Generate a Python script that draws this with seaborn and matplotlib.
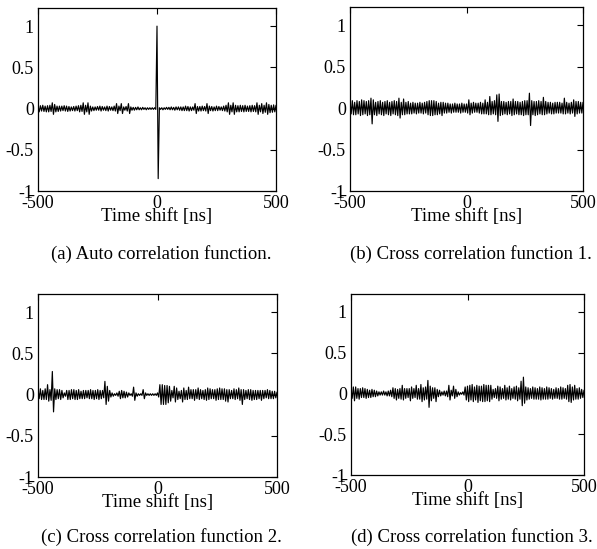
import numpy as np
import pandas as pd
import matplotlib
matplotlib.use("Agg")
import matplotlib.pyplot as plt
import seaborn as sns

# Correlation values sampled every 5 ns from -500 ns to 500 ns (one row = 100 ns)
lag_ns = np.arange(-500, 501, 5)

auto_corr = [
    0.03, -0.04, 0.035, -0.03, 0.04, -0.035, 0.03, -0.04, 0.035, -0.04, 0.04, -0.035, 0.07, -0.07, 0.05, -0.04, 0.03, -0.035, 0.03, -0.03,
    0.03, -0.025, 0.035, -0.03, 0.03, -0.035, 0.025, -0.03, 0.02, -0.025, 0.025, -0.03, 0.03, -0.025, 0.035, -0.04, 0.04, -0.035, 0.07, -0.07,
    0.04, -0.04, 0.07, -0.07, 0.03, -0.03, 0.02, -0.025, 0.02, -0.02, 0.025, -0.02, 0.03, -0.03, 0.025, -0.02, 0.02, -0.025, 0.03, -0.03,
    0.025, -0.02, 0.02, -0.025, 0.03, -0.03, 0.06, -0.06, 0.03, -0.025, 0.06, -0.06, 0.02, -0.02, 0.025, -0.03, 0.06, -0.06, 0.02, -0.02,
    0.015, -0.02, 0.015, -0.015, 0.02, -0.015, 0.01, -0.015, 0.015, -0.01, 0.01, -0.015, 0.01, -0.01, 0.01, -0.01, 0.01, -0.01, 0.01, -0.01,
    1.0, -0.85, 0.01, -0.01, 0.01, -0.015, 0.01, -0.01, 0.015, -0.01, 0.015, -0.015, 0.02, -0.015, 0.015, -0.02, 0.02, -0.015, 0.02, -0.02,
    0.02, -0.025, 0.02, -0.025, 0.03, -0.025, 0.025, -0.03, 0.02, -0.025, 0.02, -0.02, 0.06, -0.06, 0.025, -0.03, 0.025, -0.03, 0.03, -0.025,
    0.025, -0.03, 0.06, -0.06, 0.03, -0.025, 0.025, -0.03, 0.02, -0.025, 0.03, -0.025, 0.025, -0.02, 0.02, -0.025, 0.03, -0.03, 0.04, -0.04,
    0.07, -0.07, 0.04, -0.04, 0.07, -0.07, 0.04, -0.04, 0.035, -0.04, 0.04, -0.035, 0.035, -0.04, 0.04, -0.035, 0.03, -0.035, 0.035, -0.04,
    0.04, -0.035, 0.035, -0.04, 0.07, -0.07, 0.04, -0.04, 0.06, -0.06, 0.04, -0.045, 0.07, -0.07, 0.05, -0.05, 0.04, -0.045, 0.045, -0.04,
    0.04,
]

cross_corr_1 = [
    0.08, -0.07, 0.09, -0.08, 0.07, -0.08, 0.09, -0.07, 0.08, -0.09, 0.10, -0.08, 0.09, -0.07, 0.08, -0.09, 0.09, -0.08, 0.12, -0.19,
    0.10, -0.08, 0.07, -0.09, 0.08, -0.07, 0.09, -0.08, 0.07, -0.09, 0.08, -0.07, 0.09, -0.08, 0.07, -0.09, 0.08, -0.07, 0.09, -0.08,
    0.08, -0.09, 0.12, -0.12, 0.07, -0.08, 0.11, -0.08, 0.07, -0.07, 0.08, -0.07, 0.06, -0.07, 0.07, -0.06, 0.06, -0.07, 0.06, -0.06,
    0.07, -0.06, 0.06, -0.07, 0.07, -0.06, 0.08, -0.08, 0.09, -0.09, 0.09, -0.09, 0.09, -0.08, 0.08, -0.08, 0.06, -0.07, 0.07, -0.09,
    0.07, -0.06, 0.06, -0.06, 0.06, -0.05, 0.05, -0.06, 0.05, -0.05, 0.06, -0.05, 0.05, -0.05, 0.05, -0.06, 0.06, -0.05, 0.05, -0.05,
    0.05, -0.06, 0.10, -0.08, 0.06, -0.06, 0.07, -0.05, 0.06, -0.05, 0.06, -0.06, 0.07, -0.07, 0.06, -0.07, 0.10, -0.07, 0.07, -0.08,
    0.14, -0.08, 0.08, -0.07, 0.09, -0.08, 0.16, -0.16, 0.17, -0.09, 0.08, -0.08, 0.08, -0.07, 0.07, -0.08, 0.08, -0.07, 0.08, -0.09,
    0.11, -0.08, 0.08, -0.07, 0.08, -0.08, 0.07, -0.08, 0.08, -0.09, 0.09, -0.08, 0.09, -0.08, 0.18, -0.21, 0.09, -0.08, 0.08, -0.09,
    0.08, -0.08, 0.09, -0.07, 0.08, -0.08, 0.13, -0.08, 0.08, -0.07, 0.07, -0.06, 0.07, -0.07, 0.06, -0.07, 0.07, -0.06, 0.07, -0.06,
    0.07, -0.06, 0.06, -0.07, 0.12, -0.07, 0.07, -0.06, 0.06, -0.07, 0.07, -0.06, 0.10, -0.10, 0.08, -0.07, 0.08, -0.06, 0.07, -0.06,
    0.07,
]

cross_corr_2 = [
    0.06, -0.05, 0.07, -0.06, 0.05, -0.06, 0.07, -0.06, 0.12, -0.08, 0.06, -0.07, 0.28, -0.21, 0.07, -0.06, 0.06, -0.05, 0.06, -0.06,
    0.05, -0.04, 0.02, -0.02, 0.05, -0.06, 0.05, -0.06, 0.06, -0.05, 0.06, -0.06, 0.05, -0.06, 0.06, -0.05, 0.04, -0.05, 0.05, -0.05,
    0.05, -0.04, 0.05, -0.05, 0.06, -0.05, 0.05, -0.06, 0.05, -0.05, 0.06, -0.06, 0.05, -0.05, 0.05, -0.04, 0.16, -0.12, 0.10, -0.08,
    0.05, -0.03, 0.02, -0.02, 0.01, -0.01, 0.02, -0.02, 0.04, -0.05, 0.05, -0.04, 0.04, -0.04, 0.03, -0.03, 0.02, -0.01, 0.01, -0.02,
    0.09, -0.07, 0.02, -0.02, 0.01, -0.01, 0.01, -0.01, 0.06, -0.05, 0.02, -0.01, 0.01, -0.01, 0.01, -0.01, 0.01, -0.01, 0.01, -0.01,
    0.02, -0.03, 0.12, -0.12, 0.12, -0.12, 0.11, -0.12, 0.11, -0.10, 0.10, -0.08, 0.05, -0.04, 0.10, -0.09, 0.08, -0.06, 0.04, -0.05,
    0.05, -0.09, 0.08, -0.06, 0.05, -0.06, 0.09, -0.05, 0.06, -0.05, 0.06, -0.07, 0.06, -0.05, 0.08, -0.06, 0.06, -0.05, 0.05, -0.06,
    0.06, -0.07, 0.08, -0.06, 0.07, -0.05, 0.06, -0.05, 0.06, -0.07, 0.07, -0.06, 0.08, -0.06, 0.07, -0.06, 0.07, -0.08, 0.06, -0.09,
    0.06, -0.05, 0.05, -0.05, 0.07, -0.06, 0.06, -0.05, 0.08, -0.07, 0.06, -0.12, 0.06, -0.06, 0.05, -0.05, 0.06, -0.06, 0.06, -0.07,
    0.05, -0.06, 0.05, -0.06, 0.05, -0.05, 0.05, -0.07, 0.05, -0.05, 0.05, -0.04, 0.06, -0.05, 0.05, -0.05, 0.04, -0.05, 0.04, -0.04,
    0.03,
]

cross_corr_3 = [
    0.05, -0.06, 0.08, -0.09, 0.08, -0.06, 0.06, -0.07, 0.06, -0.05, 0.07, -0.05, 0.06, -0.06, 0.05, -0.05, 0.04, -0.05, 0.05, -0.04,
    0.04, -0.04, 0.03, -0.03, 0.02, -0.02, 0.02, -0.02, 0.03, -0.02, 0.02, -0.03, 0.03, -0.03, 0.04, -0.04, 0.07, -0.06, 0.06, -0.08,
    0.05, -0.06, 0.06, -0.07, 0.10, -0.08, 0.06, -0.06, 0.06, -0.05, 0.06, -0.09, 0.08, -0.06, 0.06, -0.05, 0.10, -0.07, 0.06, -0.07,
    0.11, -0.10, 0.07, -0.08, 0.08, -0.07, 0.16, -0.17, 0.09, -0.09, 0.07, -0.06, 0.07, -0.10, 0.05, -0.04, 0.04, -0.03, 0.02, -0.02,
    0.03, -0.03, 0.03, -0.04, 0.10, -0.08, 0.04, -0.03, 0.09, -0.06, 0.05, -0.04, 0.02, -0.02, 0.01, -0.01, 0.02, -0.02, 0.08, -0.08,
    0.09, -0.10, 0.10, -0.08, 0.11, -0.10, 0.08, -0.08, 0.10, -0.11, 0.09, -0.09, 0.09, -0.10, 0.11, -0.10, 0.10, -0.09, 0.10, -0.10,
    0.10, -0.07, 0.05, -0.05, 0.06, -0.06, 0.09, -0.09, 0.08, -0.07, 0.06, -0.06, 0.10, -0.08, 0.07, -0.07, 0.09, -0.08, 0.06, -0.06,
    0.08, -0.07, 0.09, -0.09, 0.07, -0.07, 0.15, -0.15, 0.20, -0.12, 0.08, -0.08, 0.07, -0.07, 0.06, -0.06, 0.08, -0.07, 0.07, -0.07,
    0.06, -0.07, 0.08, -0.08, 0.07, -0.07, 0.06, -0.07, 0.08, -0.07, 0.07, -0.06, 0.06, -0.07, 0.05, -0.06, 0.07, -0.06, 0.06, -0.07,
    0.08, -0.07, 0.07, -0.06, 0.06, -0.07, 0.10, -0.10, 0.11, -0.11, 0.08, -0.08, 0.10, -0.07, 0.06, -0.07, 0.07, -0.06, 0.05, -0.05,
    0.04,
]

captions = [
    "(a) Auto correlation function.",
    "(b) Cross correlation function 1.",
    "(c) Cross correlation function 2.",
    "(d) Cross correlation function 3.",
]
x_label = "Time shift [ns]"
x_ticks = [-500, 0, 500]
y_ticks = [-1, -0.5, 0, 0.5, 1]
y_tick_labels = ["-1", "-0.5", "0", "0.5", "1"]

sns.set_theme(style="white")
plt.rcParams["font.family"] = ["Liberation Serif", "DejaVu Serif"]
plt.rcParams["axes.unicode_minus"] = False

W, H = 597, 549
fig = plt.figure(figsize=(W / 100, H / 100), dpi=100)
fig.patch.set_facecolor("white")

# axes boxes in pixels: left, top, right, bottom
boxes = [(38, 8, 276, 191), (350, 7, 583, 191),
         (38, 294, 277, 477), (351, 294, 584, 475)]
series = [auto_corr, cross_corr_1, cross_corr_2, cross_corr_3]
caption_y = [254, 254, 537, 537]

for (l, t, r, b), ys, cap, cy in zip(boxes, series, captions, caption_y):
    ax = fig.add_axes([l / W, 1 - b / H, (r - l) / W, (b - t) / H])
    df = pd.DataFrame({"lag": lag_ns, "corr": ys})
    sns.lineplot(data=df, x="lag", y="corr", ax=ax, color="black",
                 lw=0.85, estimator=None, sort=False)
    ax.set_xlim(-500, 500)
    ax.set_ylim(-1, 1.22)
    ax.set_xticks(x_ticks)
    ax.set_xticklabels([str(v) for v in x_ticks])
    ax.set_yticks(y_ticks)
    ax.set_yticklabels(y_tick_labels)
    ax.tick_params(direction="in", length=4, width=0.8, labelsize=13,
                   colors="black", top=True, right=True, pad=3)
    ax.tick_params(axis="y", pad=3)
    for s in ax.spines.values():
        s.set_color("black")
        s.set_linewidth(0.9)
    ax.set_ylabel("")
    ax.set_xlabel(x_label, fontsize=13.5, color="black")
    ax.xaxis.set_label_coords(0.5, -0.095)
    fig.text(((l + r) / 2 + 4) / W, 1 - cy / H, cap, ha="center",
             va="center", fontsize=13.5, color="black")

fig.savefig("out.png", dpi=100, facecolor="white")
